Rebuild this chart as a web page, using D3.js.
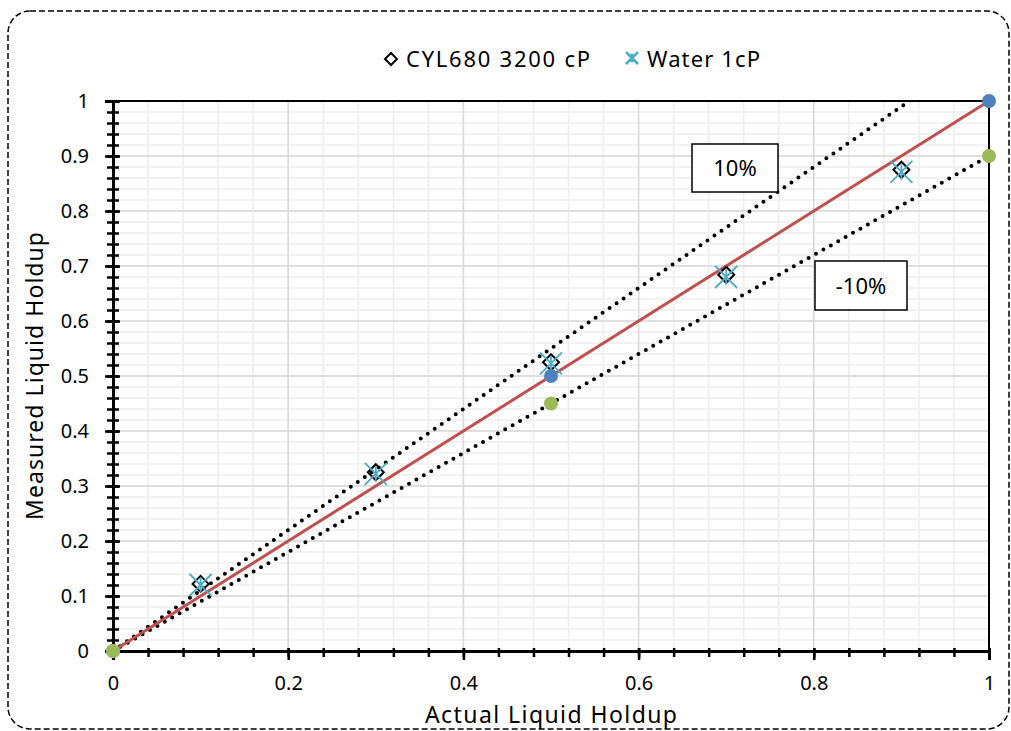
<!DOCTYPE html>
<html>
<head>
<meta charset="utf-8">
<script src="https://cdn.jsdelivr.net/npm/d3@7/dist/d3.min.js"></script>
<style>
  body { margin: 0; background: #fff; }
  text { font-family: "Comic Sans MS", "Noto Sans", sans-serif; }
</style>
</head>
<body>
<div id="chart"></div>
<script>
// data
const actualHoldup = [0.1, 0.3, 0.5, 0.7, 0.9];
const cylMeasured = [0.122, 0.325, 0.525, 0.684, 0.875];
const waterMeasured = [0.12, 0.322, 0.523, 0.68, 0.871];
const refX = [0, 0.5, 1];
const refY = [0, 0.5, 1];      // y = x
const upperY = [0, 0.55, 1.1]; // +10%
const lowerY = [0, 0.45, 0.9]; // -10%
const xTickLabels = [0, 0.2, 0.4, 0.6, 0.8, 1];
const yTickLabels = [0, 0.1, 0.2, 0.3, 0.4, 0.5, 0.6, 0.7, 0.8, 0.9, 1];
const seriesNames = ['CYL680 3200 cP', 'Water 1cP'];

const width = 1011, height = 731;
const margin = { top: 101, right: 22, bottom: 80, left: 113 };
const innerW = width - margin.left - margin.right;
const innerH = height - margin.top - margin.bottom;

const svg = d3.select('#chart')
  .append('svg')
  .attr('width', width)
  .attr('height', height);

// dashed rounded frame
svg.append('rect')
  .attr('x', 8).attr('y', 11)
  .attr('width', 1001).attr('height', 718)
  .attr('rx', 22)
  .style('fill', 'none')
  .style('stroke', '#000')
  .style('stroke-width', 1.5)
  .style('stroke-dasharray', '6 3');

const x = d3.scaleLinear().domain([0, 1]).range([0, innerW]);
const y = d3.scaleLinear().domain([0, 1]).range([innerH, 0]);

const g = svg.append('g')
  .attr('transform', `translate(${margin.left}, ${margin.top})`);

g.append('clipPath').attr('id', 'plot-clip')
  .append('rect').attr('width', innerW).attr('height', innerH);

// gridlines
const xMinor = d3.range(0, 1.0001, 0.04);
const yMinor = d3.range(0, 1.0001, 0.02);

g.selectAll('.vminor').data(xMinor).enter().append('line')
  .attr('x1', d => x(d)).attr('x2', d => x(d))
  .attr('y1', 0).attr('y2', innerH)
  .style('stroke', '#eeeeee').style('stroke-width', 1.5);
g.selectAll('.hminor').data(yMinor).enter().append('line')
  .attr('y1', d => y(d)).attr('y2', d => y(d))
  .attr('x1', 0).attr('x2', innerW)
  .style('stroke', '#eeeeee').style('stroke-width', 1.5);
g.selectAll('.vmajor').data(xTickLabels).enter().append('line')
  .attr('x1', d => x(d)).attr('x2', d => x(d))
  .attr('y1', 0).attr('y2', innerH)
  .style('stroke', '#d9d9d9').style('stroke-width', 1.5);
g.selectAll('.hmajor').data(yTickLabels).enter().append('line')
  .attr('y1', d => y(d)).attr('y2', d => y(d))
  .attr('x1', 0).attr('x2', innerW)
  .style('stroke', '#d9d9d9').style('stroke-width', 1.5);

// top / right frame of plot area
g.append('path')
  .attr('d', `M0,0H${innerW}V${innerH}`)
  .style('fill', 'none').style('stroke', '#000').style('stroke-width', 2);

// axes: minor ticks
g.append('g')
  .attr('transform', `translate(0, ${innerH})`)
  .call(d3.axisBottom(x).tickValues(xMinor).tickSize(6).tickFormat(''))
  .call(a => a.select('.domain').remove())
  .call(a => a.selectAll('line').attr('y1', -3).style('stroke-width', 2.5));
g.append('g')
  .call(d3.axisLeft(y).tickValues(yMinor).tickSize(6).tickFormat(''))
  .call(a => a.select('.domain').remove())
  .call(a => a.selectAll('line').attr('x1', 6).style('stroke-width', 2.5));

// axes: major ticks + labels
const xAxis = g.append('g')
  .attr('transform', `translate(0, ${innerH})`)
  .call(d3.axisBottom(x).tickValues(xTickLabels).tickSize(9).tickPadding(16)
    .tickFormat(d3.format('')));
xAxis.selectAll('line').attr('y1', -3).style('stroke-width', 2.5);
xAxis.select('.domain').style('stroke-width', 3);
xAxis.selectAll('text')
  .style('font-size', '20px').style('fill', '#000');

const yAxis = g.append('g')
  .call(d3.axisLeft(y).tickValues(yTickLabels).tickSize(8).tickPadding(16)
    .tickFormat(d3.format('')));
yAxis.selectAll('line').attr('x1', 7).style('stroke-width', 2.5);
yAxis.select('.domain').style('stroke-width', 3);
yAxis.selectAll('text')
  .style('font-size', '20px').style('fill', '#000');

// axis titles
svg.append('text')
  .attr('x', margin.left + innerW / 2)
  .attr('y', 723)
  .attr('text-anchor', 'middle')
  .attr('textLength', 252)
  .attr('lengthAdjust', 'spacing')
  .style('font-size', '23px')
  .text('Actual Liquid Holdup');

svg.append('text')
  .attr('transform', `translate(43, ${margin.top + innerH / 2}) rotate(-90)`)
  .attr('text-anchor', 'middle')
  .attr('textLength', 288)
  .attr('lengthAdjust', 'spacing')
  .style('font-size', '23px')
  .text('Measured Liquid Holdup');

// lines
const plot = g.append('g').attr('clip-path', 'url(#plot-clip)');
const line = d3.line().x(d => x(d[0])).y(d => y(d[1]));

function dotted(ys) {
  plot.append('path')
    .datum(refX.map((v, i) => [v, ys[i]]))
    .attr('d', line)
    .style('fill', 'none')
    .style('stroke', '#000')
    .style('stroke-width', 4)
    .style('stroke-linecap', 'round')
    .style('stroke-dasharray', '0 8.5');
}
dotted(upperY);
dotted(lowerY);

g.append('path')
  .datum(refX.map((v, i) => [v, refY[i]]))
  .attr('d', line)
  .style('fill', 'none')
  .style('stroke', '#c0504d')
  .style('stroke-width', 3);

// markers
const diamond = s => `M0,${-s}L${s},0L0,${s}L${-s},0Z`;
const star = s => `M${-s},${-s}L${s},${s}M${-s},${s}L${s},${-s}M0,${-s * 0.7}V${s * 0.7}`;

g.selectAll('.cyl').data(actualHoldup).enter().append('path')
  .attr('transform', (d, i) => `translate(${x(d)}, ${y(cylMeasured[i])})`)
  .attr('d', diamond(8))
  .style('fill', 'none').style('stroke', '#000').style('stroke-width', 2);

g.selectAll('.water').data(actualHoldup).enter().append('path')
  .attr('transform', (d, i) => `translate(${x(d)}, ${y(waterMeasured[i])})`)
  .attr('d', star(11))
  .style('fill', 'none').style('stroke', '#4bacc6').style('stroke-width', 1.8);

// reference markers
g.selectAll('.blue').data(refX).enter().append('circle')
  .attr('cx', d => x(d)).attr('cy', (d, i) => y(refY[i]))
  .attr('r', 7).style('fill', '#4f81bd');
g.selectAll('.green').data(refX).enter().append('circle')
  .attr('cx', d => x(d)).attr('cy', (d, i) => y(lowerY[i]))
  .attr('r', 7).style('fill', '#9bbb59');

// text boxes
function labelBox(x0, y0, w, h, txt) {
  svg.append('rect')
    .attr('x', x0).attr('y', y0).attr('width', w).attr('height', h)
    .style('fill', '#fff').style('stroke', '#000').style('stroke-width', 1.5);
  svg.append('text')
    .attr('x', x0 + w / 2).attr('y', y0 + h / 2 + 8)
    .attr('text-anchor', 'middle')
    .style('font-family', '"Noto Sans", sans-serif')
    .style('font-size', '22px')
    .text(txt);
}
labelBox(692, 144, 86, 48, '10%');
labelBox(815, 261, 92, 49, '-10%');

// legend
const legend = svg.append('g');
legend.append('path')
  .attr('transform', 'translate(391, 59)')
  .attr('d', diamond(6))
  .style('fill', 'none').style('stroke', '#000').style('stroke-width', 2);
legend.append('text')
  .attr('x', 406).attr('y', 67)
  .attr('textLength', 184)
  .attr('lengthAdjust', 'spacing')
  .style('font-size', '22px')
  .text(seriesNames[0]);
legend.append('path')
  .attr('transform', 'translate(632, 58)')
  .attr('d', star(6))
  .style('fill', 'none').style('stroke', '#4bacc6').style('stroke-width', 2.5);
legend.append('text')
  .attr('x', 647).attr('y', 67)
  .attr('textLength', 113)
  .attr('lengthAdjust', 'spacing')
  .style('font-size', '22px')
  .text(seriesNames[1]);
</script>
</body>
</html>
